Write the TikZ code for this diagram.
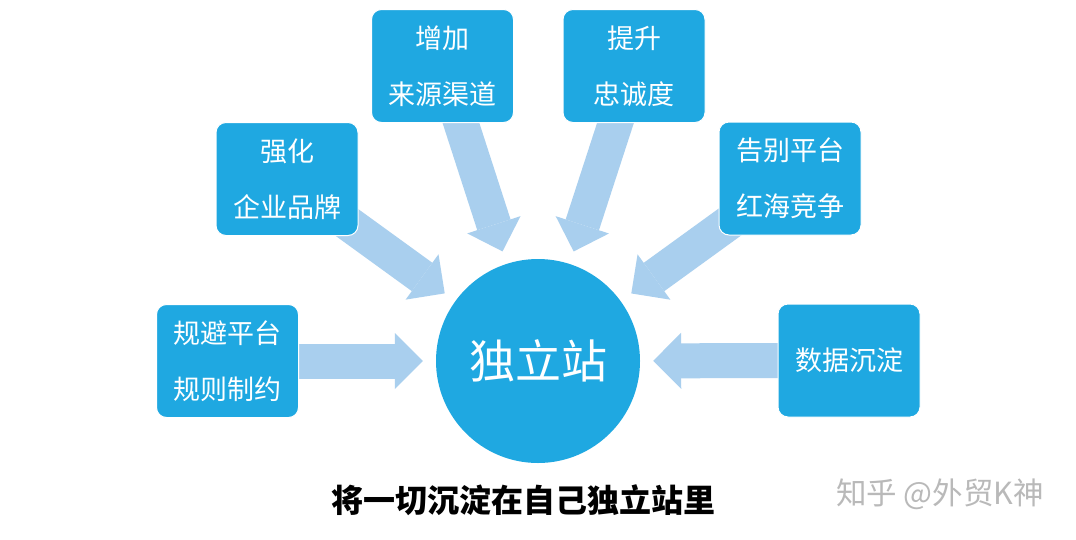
\documentclass[tikz,border=0pt]{standalone}
\usepackage{fontspec}
\newfontfamily\cjk{Noto Sans CJK SC}
\usetikzlibrary{arrows.meta}
\pgfdeclarelayer{background}
\pgfsetlayers{background,main}
\definecolor{boxblue}{RGB}{31,168,225}
\definecolor{arrowblue}{RGB}{169,207,238}
\definecolor{markgray}{RGB}{185,185,185}
\tikzset{
  box/.style={draw=white,line width=1pt,fill=boxblue,rounded corners=10pt,
    minimum width=142pt,minimum height=113pt,inner sep=0pt,
    text=white,align=center,font=\fontsize{27}{56}\selectfont\cjk},
  bigarrow/.style={draw=arrowblue,line width=35pt,shorten >=13pt,
    -{Triangle[length=28pt,width=56pt,line width=0pt]}}
}
\begin{document}
\begin{tikzpicture}[x=1pt,y=-1pt]
  \useasboundingbox (0,0) rectangle (1076,539);
  % boxes round the hub
  \node[box] (zj) at (442.5,66) {增加\\来源渠道};
  \node[box] (ts) at (634,66) {提升\\忠诚度};
  \node[box] (qh) at (287,179) {强化\\企业品牌};
  \node[box] (gb) at (790,178.5) {告别平台\\红海竞争};
  \node[box] (gp) at (227.5,361) {规避平台\\规则制约};
  \node[box] (sj) at (849,360.5) {数据沉淀};
  \node[circle,fill=boxblue,minimum size=204pt,inner sep=0pt,text=white,
    font=\fontsize{46}{56}\selectfont\cjk] (hub) at (538,361) {独立站};
  % caption and mark
  \node[font=\fontsize{32}{38}\selectfont\cjk\bfseries] (cap) at (523.5,500)
    {将一切沉淀在自己独立站里};
  \node[text=markgray,font=\fontsize{30.5}{36}\selectfont\cjk] (mark) at (940,494)
    {知乎 @外贸K神};
  \begin{pgfonlayer}{background}
    \fill[white] (0,0) rectangle (1076,539);
    \foreach \s in {zj,ts,qh,gb,gp,sj}
      \draw[bigarrow] (\s.center) -- (hub);
  \end{pgfonlayer}
\end{tikzpicture}
\end{document}
